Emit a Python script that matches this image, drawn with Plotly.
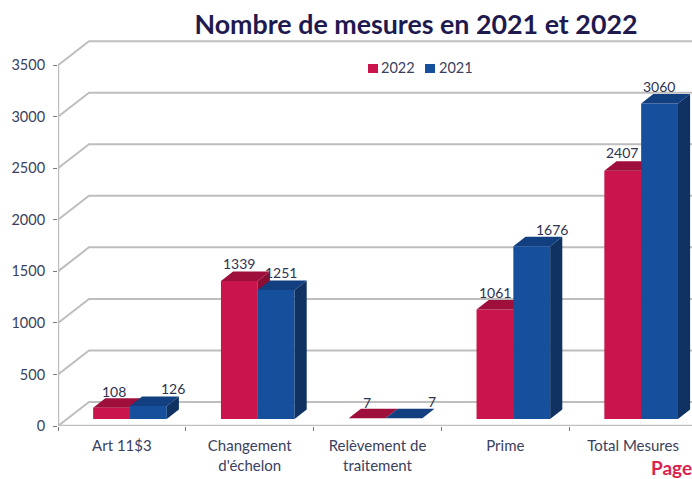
import plotly.graph_objects as go

categories = ["Art 11$3", "Changement<br>d'échelon", "Relèvement de<br>traitement", "Prime", "Total Mesures"]
values_2022 = [108, 1339, 7, 1061, 2407]
values_2021 = [126, 1251, 7, 1676, 3060]
y_ticks = [0, 500, 1000, 1500, 2000, 2500, 3000, 3500]
title_text = "Nombre de mesures en 2021 et 2022"

# display geometry, in axis units
BAR_W = 0.288
RED_OFFSET = 0.419
BLUE_OFFSET = 0.707
BASE = 68
BAR_DX, BAR_DY = 0.095, 92
WALL_DX, WALL_DY = 0.2426, 233

RED = ("#C9144C", "#9E0F3B", "#8A0D33")
BLUE = ("#164F9C", "#123F80", "#0F3262")
GRID = "#BEBEBE"
TXT = "#3A4160"
FONT = "Lato"

FIG_W, FIG_H = 692, 479
ML, MT, MB = 58, 38, 53
PLOT_W, PLOT_H = FIG_W - ML, FIG_H - MT - MB


def px(x):
    return (x - ML) / PLOT_W


def py(y):
    return 1 - (y - MT) / PLOT_H


fig = go.Figure()

# walls
wx, wy = [], []
for t in y_ticks:
    wx += [0, WALL_DX, 5.2, None]
    wy += [t, t + WALL_DY, t + WALL_DY, None]
fig.add_trace(go.Scatter(x=wx, y=wy, mode="lines", line=dict(color=GRID, width=2),
                         hoverinfo="skip", showlegend=False))
fig.add_trace(go.Scatter(x=[0, 0, None, 0, 5.2], y=[0, 3500, None, 0, 0], mode="lines",
                         line=dict(color=GRID, width=2.5), hoverinfo="skip", showlegend=False))


def add_series(name, values, offset, colors):
    front = ([], [])
    top = ([], [])
    side = ([], [])
    for i, v in enumerate(values):
        x0 = i + offset - BAR_W / 2
        x1 = x0 + BAR_W
        y0, y1 = BASE, BASE + v
        front[0].extend([x0, x1, x1, x0, x0, None])
        front[1].extend([y0, y0, y1, y1, y0, None])
        top[0].extend([x0, x1, x1 + BAR_DX, x0 + BAR_DX, x0, None])
        top[1].extend([y1, y1, y1 + BAR_DY, y1 + BAR_DY, y1, None])
        side[0].extend([x1, x1 + BAR_DX, x1 + BAR_DX, x1, x1, None])
        side[1].extend([y0, y0 + BAR_DY, y1 + BAR_DY, y1, y0, None])
    for pts, col in zip((front, top, side), colors):
        fig.add_trace(go.Scatter(x=pts[0], y=pts[1], mode="lines", fill="toself", fillcolor=col,
                                 line=dict(width=0, color=col), name=name,
                                 hoverinfo="skip", showlegend=False))


add_series("2022", values_2022, RED_OFFSET, RED)
add_series("2021", values_2021, BLUE_OFFSET, BLUE)

# data labels: (xshift, yshift) in px from the top centre of the bar front
shifts_2022 = [(2, 16), (0, 17), (0, 16), (0, 17), (-1, 18)]
shifts_2021 = [(25, 18), (5, 18), (28, 17), (20, 17), (-1, 17)]
annotations = []
for vals, off, shifts in ((values_2022, RED_OFFSET, shifts_2022), (values_2021, BLUE_OFFSET, shifts_2021)):
    for i, v in enumerate(vals):
        annotations.append(dict(x=i + off, y=BASE + v, xref="x", yref="y", text=str(v), showarrow=False,
                                xshift=shifts[i][0], yshift=shifts[i][1],
                                font=dict(family=FONT, size=14, color="#2E3350")))

# legend row and page mark
shapes = []
for sx, tx, col, lab in ((368, 380, RED[0], "2022"), (425, 438, BLUE[0], "2021")):
    shapes.append(dict(type="rect", xref="paper", yref="paper", x0=px(sx), x1=px(sx + 10),
                       y0=py(73), y1=py(64), fillcolor=col, line=dict(width=0)))
    annotations.append(dict(x=px(tx), y=py(68), xref="paper", yref="paper", xanchor="left", yanchor="middle",
                            showarrow=False, xshift=-1, text=lab,
                            font=dict(family=FONT, size=14.5, color=TXT)))
annotations.append(dict(x=px(649), y=py(467), xref="paper", yref="paper", xanchor="left", yanchor="middle",
                        showarrow=False, text="<b>Page</b>",
                        font=dict(family=FONT, size=19, color="#DC2350")))

centers = [i + 0.5 for i in range(len(categories))]
fig.update_layout(
    width=FIG_W, height=FIG_H, autosize=False,
    paper_bgcolor="white", plot_bgcolor="white",
    margin=dict(l=ML, r=0, t=MT, b=MB),
    showlegend=False,
    title=dict(text=f"<b>{title_text}</b>", x=416 / FIG_W, xanchor="center",
               y=1 - 25 / FIG_H, yanchor="middle",
               font=dict(family=FONT, size=26.8, color="#1E1A50")),
    annotations=annotations,
    shapes=shapes,
    xaxis=dict(range=[0, PLOT_W / 127.8], tickmode="array", tickvals=centers, ticktext=categories,
               ticks="", showgrid=False, zeroline=False, showline=False, ticklabelstandoff=9,
               tickfont=dict(family=FONT, size=15, color=TXT),
               minor=dict(tickmode="array", tickvals=list(range(6)), ticks="outside", ticklen=4,
                          tickcolor="#7A7A7A", tickwidth=1, showgrid=False)),
    yaxis=dict(range=[0, PLOT_H / 0.1031], tickmode="array", tickvals=y_ticks, ticks="outside", ticklen=4,
               tickcolor="#7A7A7A", tickwidth=1, showgrid=False, zeroline=False, showline=False,
               ticklabelstandoff=5,
               tickfont=dict(family=FONT, size=14.5, color=TXT)),
)

# the page's default body margin would otherwise shift the 692x479 figure
fig.write_html("out.html", config={"displayModeBar": False},
               post_script="document.body.style.margin='0';")
